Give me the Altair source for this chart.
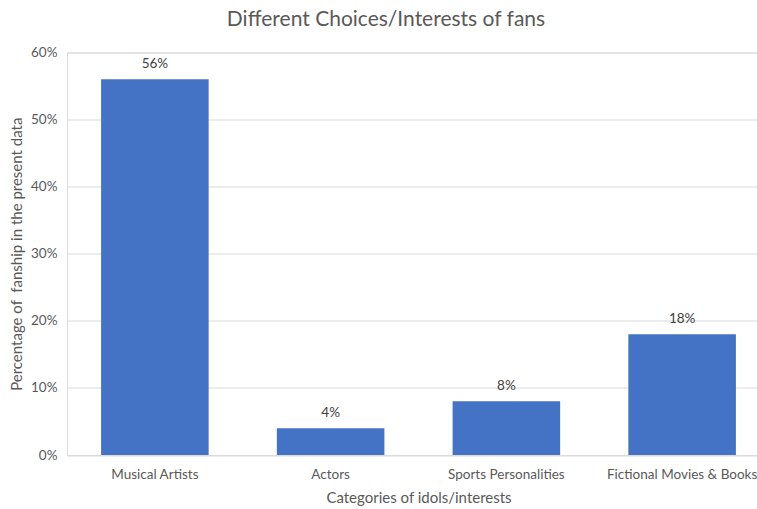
import altair as alt
import pandas as pd

categories = ["Musical Artists", "Actors", "Sports Personalities", "Fictional Movies & Books"]
values = [0.56, 0.04, 0.08, 0.18]

df = pd.DataFrame({"category": categories, "value": values})

FONT = "Lato"
TXT = "#595959"

x = alt.X(
    "category:N",
    sort=categories,
    scale=alt.Scale(range=[0, 703], paddingInner=0.388, paddingOuter=0.194),
    axis=alt.Axis(
        title="Categories of idols/interests",
        labelAngle=0,
        ticks=False,
        domain=False,
        labelPadding=12,
        labelFontSize=13.5,
        labelColor=TXT,
        labelFont=FONT,
        titleFontSize=15,
        titleColor=TXT,
        titleFont=FONT,
        titleFontWeight="normal",
        titlePadding=10,
    ),
)
y = alt.Y(
    "value:Q",
    scale=alt.Scale(domain=[0, 0.6], nice=False),
    axis=alt.Axis(
        title="Percentage of \u00a0fanship in the present data",
        format=".0%",
        values=[0, 0.1, 0.2, 0.3, 0.4, 0.5, 0.6],
        ticks=False,
        domain=False,
        gridColor="#D9D9D9",
        gridWidth=1,
        labelPadding=10,
        labelFontSize=13.5,
        labelColor=TXT,
        labelFont=FONT,
        titleFontSize=15,
        titleColor=TXT,
        titleFont=FONT,
        titleFontWeight="normal",
        titlePadding=6,
    ),
)

base = alt.Chart(df)
bars = base.mark_bar(color="#4472C4").encode(x=x, y=y)
labels = base.mark_text(
    baseline="bottom", dy=-8, fontSize=13.5, color="#404040", font=FONT
).encode(x=x, y=y, text=alt.Text("value:Q", format=".0%"))

chart = (
    (bars + labels)
    .properties(
        width=690,
        height=402.5,
        autosize=alt.AutoSizeParams(type="none"),
        padding={"left": 67, "top": 52.5, "right": 0, "bottom": 54},
        title=alt.TitleParams(
            "Different Choices/Interests of fans",
            font=FONT,
            fontSize=21,
            fontWeight="normal",
            color=TXT,
            anchor="middle",
            dx=-26,
            offset=16,
        ),
    )
    .configure_view(stroke=None)
    .configure(background="white")
)

chart.save("out.html", embed_options={"renderer": "svg", "actions": False})
